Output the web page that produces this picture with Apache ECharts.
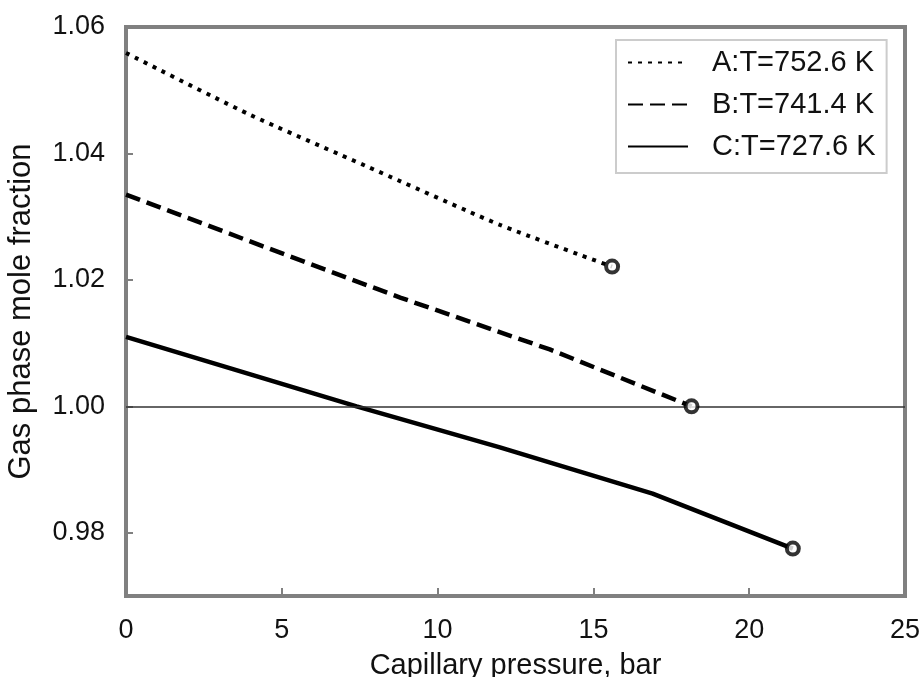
<!DOCTYPE html>
<html>
<head>
<meta charset="utf-8">
<script src="https://cdn.jsdelivr.net/npm/echarts@6/dist/echarts.min.js"></script>
<style>html,body{margin:0;padding:0;background:#fff}#c{width:923px;height:677px}</style>
</head>
<body>
<div id="c"></div>
<script>
const seriesNames = ['A:T=752.6 K', 'B:T=741.4 K', 'C:T=727.6 K'];
const seriesA = [[0, 1.0559], [3.9, 1.0463], [7.8, 1.0378], [12.0, 1.0287], [15.6, 1.0221]];
const seriesB = [[0, 1.0335], [4.4, 1.0253], [8.8, 1.0172], [13.6, 1.0090], [18.15, 1.0000]];
const seriesC = [[0, 1.0110], [7.4, 1.0000], [12.0, 0.9935], [16.9, 0.9862], [21.4, 0.9775]];
const yTickValues = [0.98, 1.00, 1.02, 1.04, 1.06];
const xTickValues = [0, 5, 10, 15, 20, 25];
const referenceY = 1.00;

const FONT = '"Liberation Sans", Arial, sans-serif';
const endPoints = [seriesA, seriesB, seriesC].map(s => s[s.length - 1]);

const chart = echarts.init(document.getElementById('c'), null, {renderer: 'canvas'});
chart.setOption({
  backgroundColor: '#fff',
  animation: false,
  textStyle: {fontFamily: FONT},
  grid: {left: 126, top: 27, right: 18, bottom: 81, containLabel: false, outerBoundsMode: 'none',
         show: true, borderColor: '#808080', borderWidth: 4, backgroundColor: 'transparent'},
  legend: {
    data: seriesNames,
    orient: 'vertical',
    left: 616, top: 40,
    padding: [8, 11, 12, 11],
    itemWidth: 60, itemHeight: 14, itemGap: 13,
    borderColor: '#cccccc', borderWidth: 2,
    backgroundColor: '#fff',
    itemStyle: {opacity: 0},
    textStyle: {fontFamily: FONT, fontSize: 29, color: '#111', padding: [0, 0, 0, 19]}
  },
  xAxis: {
    type: 'value', min: 0, max: 25, interval: 5,
    name: 'Capillary pressure, bar', nameLocation: 'middle', nameGap: 55,
    nameTextStyle: {fontFamily: FONT, fontSize: 29, color: '#111'},
    axisLine: {show: false},
    axisTick: {show: true, inside: true, length: 8, lineStyle: {color: '#808080', width: 2}},
    axisLabel: {fontFamily: FONT, fontSize: 27, color: '#111', margin: 21, customValues: xTickValues},
    splitLine: {show: false}
  },
  yAxis: {
    type: 'value', min: 0.97, max: 1.06, interval: 0.01,
    name: 'Gas phase mole fraction', nameLocation: 'middle', nameGap: 89,
    nameTextStyle: {fontFamily: FONT, fontSize: 31, color: '#111'},
    axisLine: {show: false},
    axisTick: {show: true, inside: true, length: 7, lineStyle: {color: '#808080', width: 2}, customValues: yTickValues},
    axisLabel: {fontFamily: FONT, fontSize: 27, color: '#111', margin: 21, customValues: yTickValues, formatter: v => v.toFixed(2)},
    splitLine: {show: false}
  },
  series: [
    {name: seriesNames[0], type: 'line', data: seriesA, smooth: 0.2, symbol: 'none',
     lineStyle: {color: '#000', width: 4, type: [4, 6], cap: 'butt'},
     markLine: {silent: true, symbol: 'none', label: {show: false},
       lineStyle: {color: '#333', width: 1.5, type: 'solid'}, data: [{yAxis: referenceY}]}},
    {name: seriesNames[1], type: 'line', data: seriesB, smooth: false, symbol: 'none',
     lineStyle: {color: '#000', width: 4.5, type: [15, 7], cap: 'butt'}},
    {name: seriesNames[2], type: 'line', data: seriesC, smooth: false, symbol: 'none',
     lineStyle: {color: '#000', width: 4.5, type: 'solid'}},
    {name: 'ends', type: 'scatter', data: endPoints, symbol: 'circle', symbolSize: 12,
     itemStyle: {color: '#fff', borderColor: '#000', borderWidth: 4}, z: 5}
  ]
});
</script>
</body>
</html>
